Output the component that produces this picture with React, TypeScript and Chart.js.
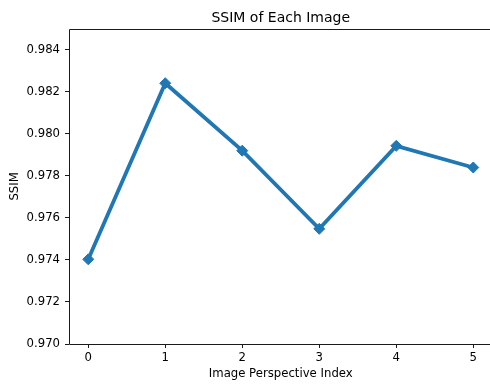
import React, { useEffect, useRef } from "react";
import { Chart, registerables } from "chart.js";

Chart.register(...registerables);

const perspectiveIndex = [0, 1, 2, 3, 4, 5];
const ssimValues = [0.97403, 0.98241, 0.9792, 0.97548, 0.97943, 0.9784];
const yTickValues = [0.97, 0.972, 0.974, 0.976, 0.978, 0.98, 0.982, 0.984];
const xTickValues = [0, 1, 2, 3, 4, 5];

const FONT = "'DejaVu Sans', sans-serif";

const frame = {
  id: "frame",
  afterDatasetsDraw(chart: any) {
    const { ctx, chartArea } = chart;
    ctx.save();
    ctx.strokeStyle = "#1a1a1a";
    ctx.lineWidth = 1;
    ctx.beginPath();
    const l = Math.round(chartArea.left) + 0.5;
    const t = Math.round(chartArea.top) + 0.5;
    const b = Math.round(chartArea.bottom) + 0.5;
    const r = chartArea.right;
    ctx.moveTo(r, t);
    ctx.lineTo(l, t);
    ctx.lineTo(l, b);
    ctx.lineTo(r, b);
    ctx.stroke();
    ctx.restore();
  },
};

export default function App() {
  const ref = useRef<HTMLCanvasElement | null>(null);
  useEffect(() => {
    if (!ref.current) return;
    const chart = new Chart(ref.current, {
      type: "line",
      data: {
        datasets: [
          {
            data: perspectiveIndex.map((x, i) => ({ x, y: ssimValues[i] })),
            borderColor: "#1f77b4",
            backgroundColor: "#1f77b4",
            borderWidth: 3.8,
            pointStyle: "rectRot",
            pointRadius: 5.5,
            pointBorderWidth: 1,
            pointBorderColor: "#1f77b4",
            pointBackgroundColor: "#1f77b4",
            tension: 0,
            clip: false as any,
          },
        ],
      },
      options: {
        animation: false,
        responsive: false,
        devicePixelRatio: 1,
        layout: { padding: { left: 0, right: 7.5, top: 0, bottom: 0 } },
        plugins: {
          legend: { display: false },
          tooltip: { enabled: false },
          title: {
            display: true,
            fullSize: false,
            text: "SSIM of Each Image",
            color: "#000",
            font: { family: FONT, size: 14, weight: "normal" as any, lineHeight: 1.2 },
            padding: { top: 10, bottom: 2 },
          },
        },
        scales: {
          x: {
            type: "linear",
            min: -0.25,
            max: 5.25,
            afterBuildTicks: (scale: any) => {
              scale.ticks = xTickValues.map((v) => ({ value: v }));
            },
            afterFit: (scale: any) => {
              scale.height = 40;
            },
            grid: {
              display: true,
              drawOnChartArea: false,
              drawTicks: true,
              tickLength: 4,
              tickColor: "#1a1a1a",
            },
            border: { display: false },
            ticks: {
              color: "#000",
              font: { family: FONT, size: 11.7 },
              padding: 3,
              maxRotation: 0,
              callback: (v: any) => String(v),
            },
            title: {
              display: true,
              text: "Image Perspective Index",
              color: "#000",
              font: { family: FONT, size: 11.7 },
              padding: { top: 0, bottom: 3 },
            },
          },
          y: {
            type: "linear",
            min: 0.97,
            max: 0.985,
            afterBuildTicks: (scale: any) => {
              scale.ticks = yTickValues.map((v) => ({ value: v }));
            },
            afterFit: (scale: any) => {
              scale.width = 69;
            },
            grid: {
              display: true,
              drawOnChartArea: false,
              drawTicks: true,
              tickLength: 4,
              tickColor: "#1a1a1a",
            },
            border: { display: false },
            ticks: {
              color: "#000",
              font: { family: FONT, size: 11.7 },
              padding: 5,
              callback: (v: any) => Number(v).toFixed(3),
            },
            title: {
              display: true,
              text: "SSIM",
              color: "#000",
              font: { family: FONT, size: 11.7 },
              padding: { top: 8, bottom: 0 },
            },
          },
        },
      },
      plugins: [frame],
    });
    return () => chart.destroy();
  }, []);

  return (
    <div
      style={{
        position: "fixed",
        left: 0,
        top: 0,
        width: 490,
        height: 384,
        overflow: "hidden",
        background: "#fff",
      }}
    >
      <canvas ref={ref} width={500} height={384} style={{ display: "block" }} />
    </div>
  );
}
